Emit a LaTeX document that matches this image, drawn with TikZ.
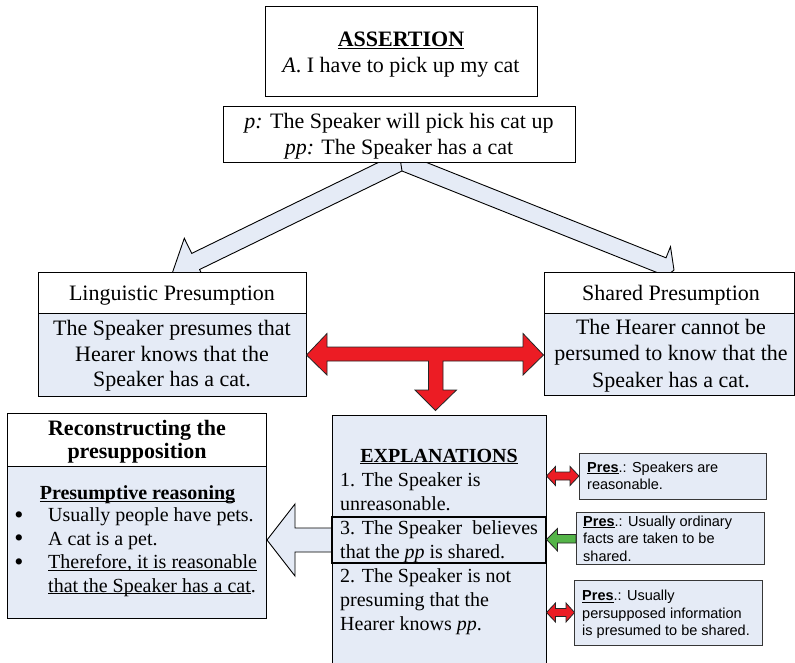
\documentclass[tikz,border=0pt]{standalone}
\usepackage{fontspec}
\setmainfont{Liberation Serif}
\newfontfamily\arialf{Liberation Sans}
\usetikzlibrary{calc}
\definecolor{lb}{RGB}{229,235,246}
\definecolor{redA}{RGB}{236,28,36}
\definecolor{greenA}{RGB}{84,180,72}
\definecolor{grayB}{RGB}{55,55,55}
\newcommand{\myul}[1]{\underline{\smash{#1}}}
\begin{document}
\begin{tikzpicture}[x=1pt,y=-1pt,
  box/.style={draw=black,line width=1pt},
  pbox/.style={draw=grayB,line width=1pt,fill=lb},
  blockarrow/.style={draw=black,line width=0.9pt,fill=lb,line join=miter},
  redarrow/.style={draw=black!85,line width=0.8pt,fill=redA,line join=miter},
  greenarrow/.style={draw=black!85,line width=0.8pt,fill=greenA,line join=miter},
  tbig/.style={font=\fontsize{22}{26}\selectfont,inner sep=0pt,anchor=base},
  tmid/.style={font=\fontsize{20}{24}\selectfont,inner sep=0pt,anchor=base},
  tmidl/.style={font=\fontsize{20}{24}\selectfont,inner sep=0pt,anchor=base west},
  tbul/.style={font=\fontsize{26}{24}\selectfont,inner sep=0pt,anchor=base},
  tsans/.style={font=\arialf\fontsize{14.5}{17}\selectfont,inner sep=0pt,anchor=base west}]
\useasboundingbox (0,0) rectangle (795,663);
\clip (0,0) rectangle (795,663);
\fill[white] (0,0) rectangle (795,663);

% big hollow arrows from p box to the two presumption boxes
\coordinate (V) at (402,171);
\draw[blockarrow] (V) -- (199.6,269.5) -- (206.9,284.5) -- (172.4,272.7) -- (184.3,238.3)
  -- (191.7,253.4) -- (394.1,154.8) -- (408.3,155.2) -- (666,257.8) -- (670.5,246.7)
  -- (674,270.1) -- (655.3,284.7) -- (659.7,273.6) -- cycle;
\coordinate (Vtop) at (400,158);
\draw[line width=0.9pt] (V) -- (Vtop);

% assertion and p boxes
\draw[box,fill=white] (265,7) rectangle (537,97);
\draw[box,fill=white] (223,107) rectangle (575,163);

% presumption boxes
\draw[box,fill=white] (38,272) rectangle (306,313);
\draw[box,fill=lb] (38,313) rectangle (306,396);
\draw[box,fill=white] (544,272) rectangle (794.5,313);
\draw[box,fill=lb] (544,313) rectangle (794.5,395);

% red T arrow
\draw[redarrow] (306.5,355) -- (327,333.5) -- (327,347) -- (523,347) -- (523,333.5) -- (543.5,355)
  -- (523,375) -- (523,361) -- (443,361) -- (443,390) -- (456.5,390) -- (435.5,410.5)
  -- (415,390) -- (428.5,390) -- (428.5,361) -- (327,361) -- (327,375) -- cycle;

% hollow arrow to reconstruction box
\draw[blockarrow] (267,540) -- (295,504) -- (295,528) -- (336,528) -- (336,552) -- (295,552) -- (295,576) -- cycle;

% reconstruction box
\draw[box,fill=white] (7,413) rectangle (266,466);
\draw[box,fill=lb] (7,466) rectangle (266,618);

% explanations box
\draw[box,fill=lb] (332,415) rectangle (546,700);
\draw[line width=1.3pt] (332,517) rectangle (546,563);

% small arrows
\draw[redarrow] (546.5,476) -- (555.5,466.5) -- (555.5,472) -- (570,472) -- (570,466.5) -- (579,476)
  -- (570,485.5) -- (570,480) -- (555.5,480) -- (555.5,485.5) -- cycle;
\draw[greenarrow] (546.5,539.5) -- (557.5,528.5) -- (557.5,534.5) -- (576,534.5) -- (576,543) -- (557.5,543) -- (557.5,551) -- cycle;
\draw[redarrow] (546.5,612.5) -- (555.5,603) -- (555.5,608.5) -- (566,608.5) -- (566,603) -- (574.5,612.5)
  -- (566,622) -- (566,616.5) -- (555.5,616.5) -- (555.5,622) -- cycle;

% pres boxes
\draw[pbox] (579,453) rectangle (766,499);
\draw[pbox] (576,512) rectangle (764,564);
\draw[pbox] (574,580) rectangle (762,645);

% texts
\node[tbig] (asT) at (401,47) {\textbf{\myul{ASSERTION}}};
\node[tbig] (asL) at (401,72.5) {\textit{A}. I have to pick up my cat};
\node[tbig] (p1) at (399,129) {\textit{p:} The Speaker will pick his cat up};
\node[tbig] (p2) at (399,155) {\textit{pp:} The Speaker has a cat};

\node[tbig] (lingT) at (172,300) {Linguistic Presumption};
\node[tbig] (ling1) at (172,335) {The Speaker presumes that};
\node[tbig] (ling2) at (172,361) {Hearer knows that the};
\node[tbig] (ling3) at (172,386.5) {Speaker has a cat.};

\node[tbig] (shT) at (671,300) {Shared Presumption};
\node[tbig] (sh1) at (671,334.5) {The Hearer cannot be};
\node[tbig] (sh2) at (671,360.5) {persumed to know that the};
\node[tbig] (sh3) at (671,387) {Speaker has a cat.};

\node[tbig] (rcT1) at (137,435) {\textbf{Reconstructing the}};
\node[tbig] (rcT2) at (137,458) {\textbf{presupposition}};
\node[tmid] (rcH) at (137.5,499.5) {\textbf{\myul{Presumptive reasoning}}};
\node[tbul] (b1) at (19,523) {\textbullet};
\node[tbul] (b2) at (19,546.5) {\textbullet};
\node[tbul] (b3) at (19,570) {\textbullet};
\node[tmidl] (r1) at (48,521.5) {Usually people have pets.};
\node[tmidl] (r2) at (48,545) {A cat is a pet.};
\node[tmidl] (r3) at (48,568.5) {\myul{Therefore, it is reasonable}};
\node[tmidl] (r4) at (48,592) {\myul{that the Speaker has a cat}.};

\node[tmid] (exH) at (439,462) {\textbf{\myul{EXPLANATIONS}}};
\node[tmidl] (e1) at (340,486.5) {1. The Speaker is};
\node[tmidl] (e2) at (340,510.5) {unreasonable.};
\node[tmidl] (e3) at (340,534.5) {3. The Speaker\ \ believes};
\node[tmidl] (e4) at (340,558.5) {that the \textit{pp} is shared.};
\node[tmidl] (e5) at (340,582.5) {2. The Speaker is not};
\node[tmidl] (e6) at (340,606.5) {presuming that the};
\node[tmidl] (e7) at (340,630.5) {Hearer knows \textit{pp}.};

\node[tsans] (s11) at (587,472) {\textbf{\myul{Pres}}.: Speakers are};
\node[tsans] (s12) at (587,489.5) {reasonable.};
\node[tsans] (s21) at (583,526) {\textbf{\myul{Pres}}.: Usually ordinary};
\node[tsans] (s22) at (583,543.5) {facts are taken to be};
\node[tsans] (s23) at (583,561) {shared.};
\node[tsans] (s31) at (582,600.5) {\textbf{\myul{Pres}}.: Usually};
\node[tsans] (s32) at (582,618) {persupposed information};
\node[tsans] (s33) at (582,635.5) {is presumed to be shared.};
\end{tikzpicture}
\end{document}
